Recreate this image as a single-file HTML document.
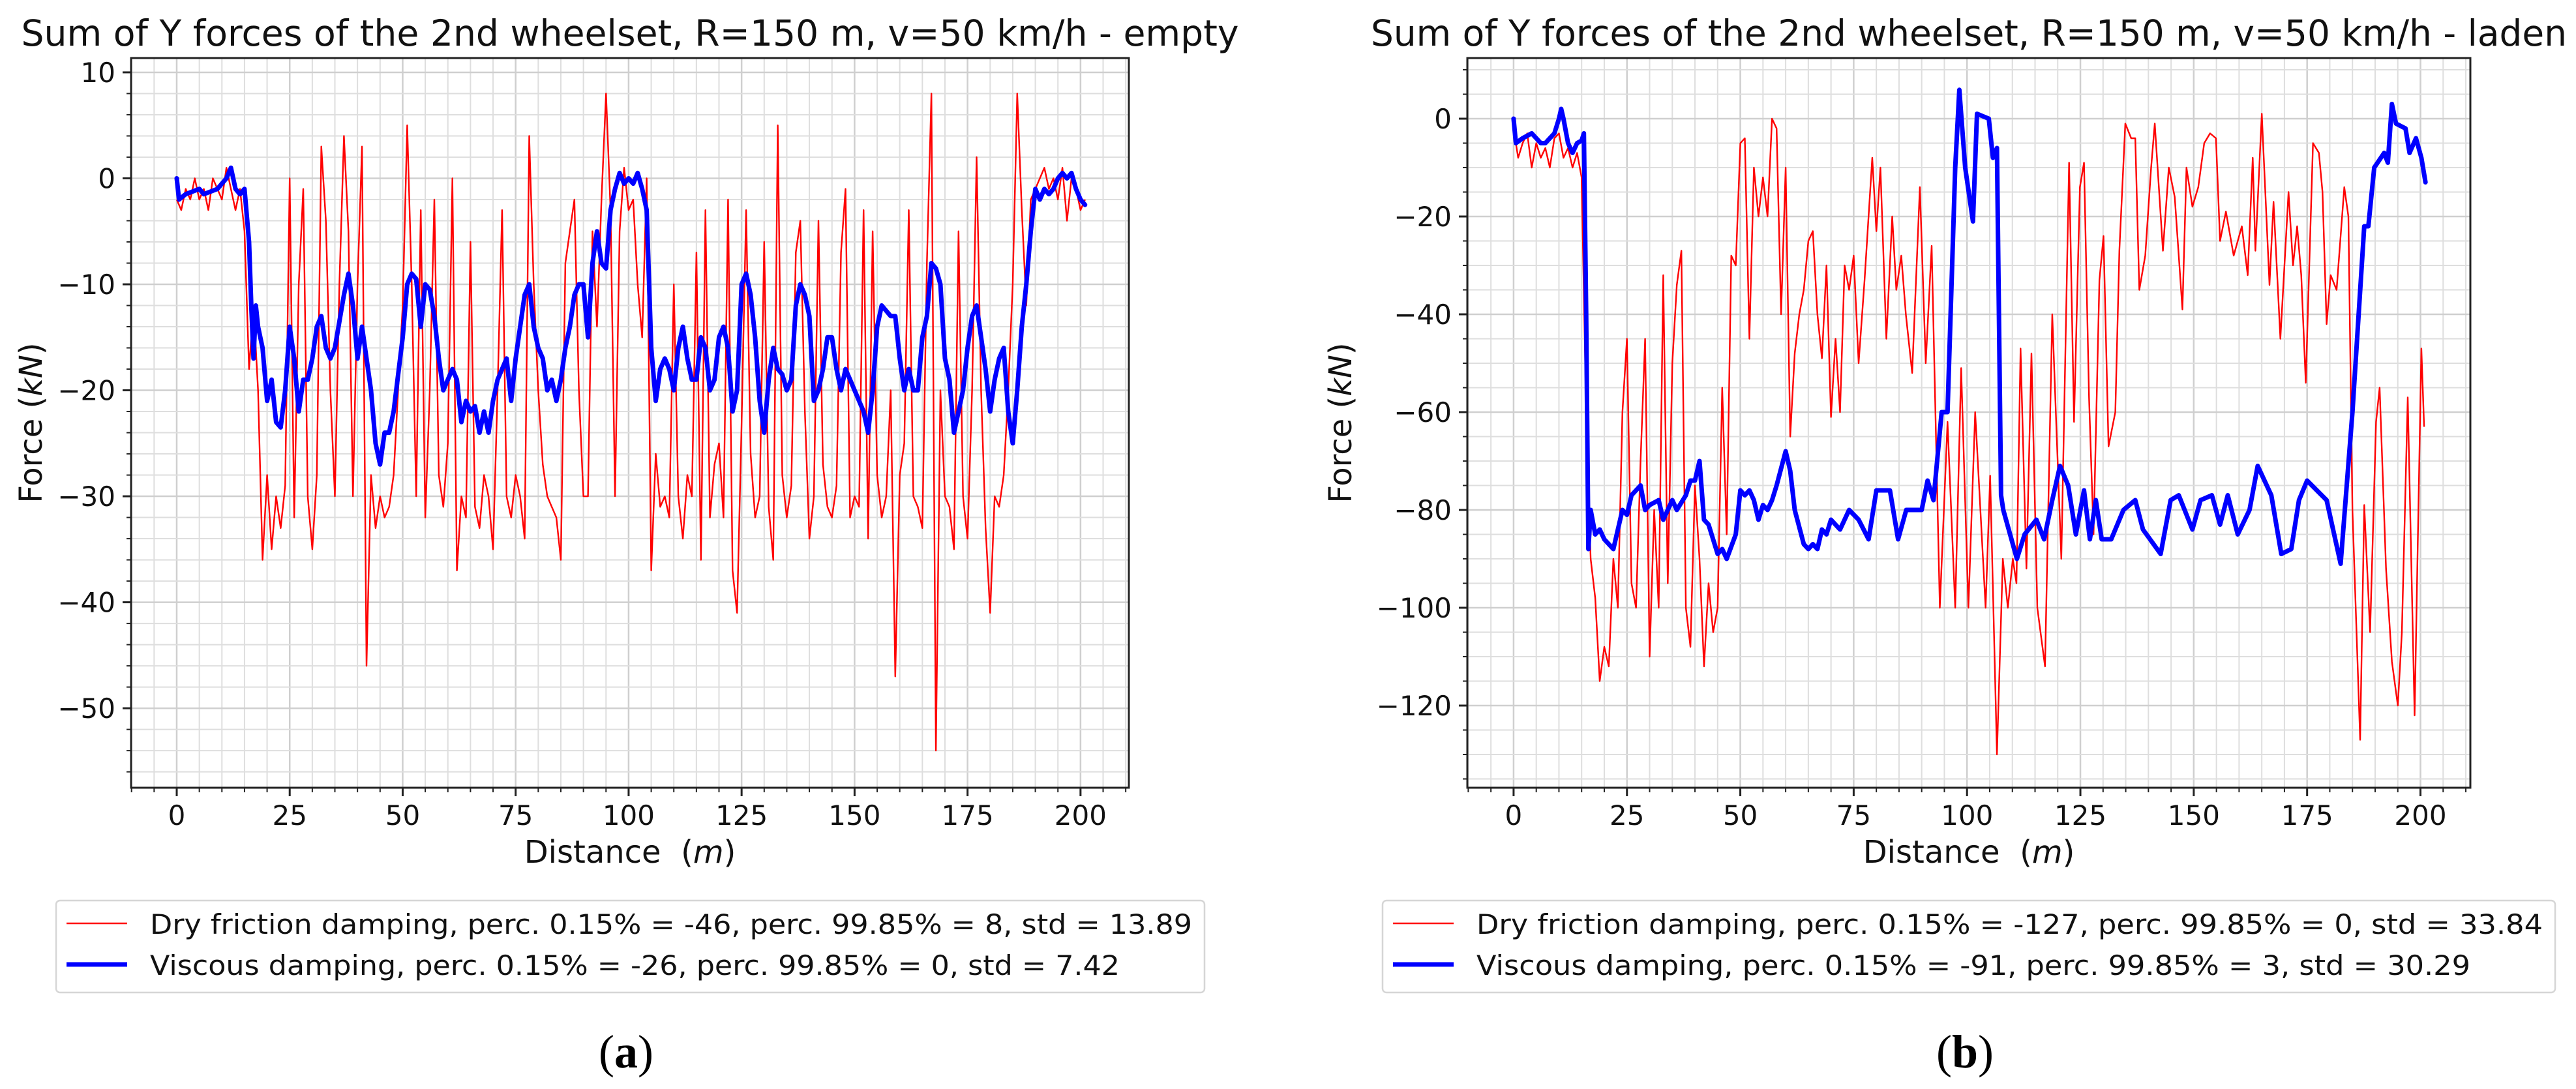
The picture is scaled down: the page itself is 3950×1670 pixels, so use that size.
<!DOCTYPE html>
<html><head><meta charset="utf-8">
<style>
html,body{margin:0;padding:0;background:#fff;}
svg{display:block;font-family:"DejaVu Sans","Liberation Sans",sans-serif;}
</style></head>
<body>
<svg id="fig" width="3950" height="1670" viewBox="0 0 3950 1670" xmlns="http://www.w3.org/2000/svg">
<rect x="0" y="0" width="3950" height="1670" fill="#fff"/>
<g id="chartA"></g>
<g id="chartB"></g>
</svg>
<script>
// ---------- Chart A (empty) data ----------
const aDryX = [0,1,2,3,4,5,6,7,8,9,10,11,12,13,14,15,16,17,18,19,20,21,22,23,24,25,26,27,28,29,30,31,32,33,34,35,36,37,38,39,40,41,42,43,44,45,46,47,48,49,50,51,52,53,54,55,56,57,58,59,60,61,62,63,64,65,66,67,68,69,70,71,72,73,74,75,76,77,78,79,80,81,82,83,84,85,86,87,88,89,90,91,92,93,94,95,96,97,98,99,100,101,102,103,104,105,106,107,108,109,110,111,112,113,114,115,116,117,118,119,120,121,122,123,124,125,126,127,128,129,130,131,132,133,134,135,136,137,138,139,140,141,142,143,144,145,146,147,148,149,150,151,152,153,154,155,156,157,158,159,160,161,162,163,164,165,166,167,168,169,170,171,172,173,174,175,176,177,178,179,180,181,182,183,184,185,186,187,188,189,190,191,192,193,194,195,196,197,198,199,200,201];
const aDryY = [-2,-3,-1,-2,0,-2,-1,-3,0,-1,-2,1,-1,-3,-1,-5,-18,-12,-20,-36,-28,-35,-30,-33,-29,0,-32,-10,-1,-30,-35,-28,3,-4,-20,-30,-10,4,-5,-30,-10,3,-46,-28,-33,-30,-32,-31,-28,-20,-12,5,-10,-30,-3,-32,-20,-2,-28,-31,-25,0,-37,-30,-32,-6,-31,-33,-28,-30,-35,-20,-3,-30,-32,-28,-30,-34,4,-10,-20,-27,-30,-31,-32,-36,-8,-5,-2,-20,-30,-30,-5,-14,-2,8,-3,-30,-5,1,-3,-2,-10,-15,0,-37,-26,-31,-30,-32,-10,-30,-34,-28,-30,-7,-36,-3,-32,-27,-25,-32,-2,-37,-41,-23,-3,-26,-32,-30,-6,-31,-36,5,-28,-32,-29,-7,-4,-22,-34,-30,-4,-27,-31,-32,-29,-7,-1,-32,-30,-31,-3,-34,-5,-28,-32,-30,-20,-47,-28,-25,-3,-30,-31,-33,-8,8,-54,-20,-30,-31,-35,-5,-30,-34,-20,2,-20,-33,-41,-30,-31,-28,-20,-10,8,-3,-12,-2,-1,0,1,-1,0,-2,1,-4,0,-1,-3,-2];
const aVisX = [0,0.5,2,5,6,9,11,12,13,14,15,16,16.5,17,17.5,18,19,20,21,22,23,24,25,26,27,28,29,30,31,32,33,34,35,37,38,39,40,41,42,43,44,45,46,47,48,50,51,52,53,54,55,56,57,58,59,60,61,62,63,64,65,66,67,68,69,70,71,72,73,74,75,76,77,78,79,80,81,82,83,84,85,86,87,88,89,90,91,92,93,94,95,96,97,98,99,100,101,102,103,104,105,106,107,108,109,110,111,112,113,114,115,116,117,118,119,120,121,122,123,124,125,126,127,128,129,130,131,132,133,134,135,136,137,138,139,140,141,142,143,144,145,146,147,148,149,150,151,152,153,154,155,156,157,158,159,160,161,162,163,164,165,166,167,168,169,170,171,172,173,174,175,176,177,178,179,180,181,182,183,184,185,186,187,188,189,190,191,192,193,194,195,196,197,198,199,200,201];
const aVisY = [0,-2,-1.5,-1,-1.5,-1,0,1,-1,-1.5,-1,-6,-12,-17,-12,-14,-16,-21,-19,-23,-23.5,-20,-14,-17,-22,-19,-19,-17,-14,-13,-16,-17,-16,-11,-9,-12,-17,-14,-17,-20,-25,-27,-24,-24,-22,-15,-10,-9,-9.5,-14,-10,-10.5,-13,-17,-20,-19,-18,-19,-23,-21,-22,-21.5,-24,-22,-24,-21,-19,-18,-17,-21,-17,-14,-11,-10,-14,-16,-17,-20,-19,-21,-19,-16,-14,-11,-10,-10,-15,-8,-5,-8,-8.5,-3,-1,0.5,-0.5,0,-0.5,0.5,-1,-3,-16,-21,-18,-17,-18,-20,-16,-14,-17,-19,-19,-15,-16,-20,-19,-15,-14,-16,-22,-20,-10,-9,-11,-15,-21,-24,-19,-16,-18,-18.5,-20,-19,-12,-10,-11,-13,-21,-20,-18,-15,-15,-18,-20,-18,-19,-20,-21,-22,-24,-20,-14,-12,-12.5,-13,-13,-17,-20,-18,-20,-20,-15,-13,-8,-8.5,-10,-17,-19,-24,-22,-20,-16,-13,-12,-15,-18,-22,-19,-17,-16,-22,-25,-20,-14,-10,-5,-1,-2,-1,-1.5,-1,0,0.5,0,0.5,-1,-2,-2.5];
const aYTicks = [10,0,-10,-20,-30,-40,-50];
const aYTickLabels = ["10","0","\u221210","\u221220","\u221230","\u221240","\u221250"];
const aXTicks = [0,25,50,75,100,125,150,175,200];
const aXTickLabels = ["0","25","50","75","100","125","150","175","200"];

// ---------- Chart B (laden) data ----------
const bDryX = [0,1,2,3,4,5,6,7,8,9,10,11,12,13,14,15,16,17,18,19,20,21,22,23,24,25,26,27,28,29,30,31,32,33,34,35,36,37,38,39,40,41,42,43,44,45,46,47,48,49,50,51,52,53,54,55,56,57,58,59,60,61,62,63,64,65,66,67,68,69,70,71,72,73,74,75,76.1,77.4,79.1,80,80.9,82.2,83.5,84.4,85.5,86.5,87.9,89.6,90.9,92.2,94,95.7,97.4,98.7,100.3,101.8,104.1,105.1,106.6,107.9,109,110.1,110.9,111.8,113.1,114.2,115.5,117.2,118.8,119.7,120.8,122.5,123.6,124.9,125.8,126.9,127.9,129.2,130.1,131.2,132.7,133.6,134.9,136.2,137.1,138,139.3,140.6,141.4,143.2,144.5,145.8,147.5,148.4,149.7,151,152.3,153.6,154.9,155.8,157.1,158.8,160.6,161.9,163,163.6,165,166.7,167.6,169.1,170.9,171.9,172.8,173.7,174.7,176.3,177.6,178.4,179.3,180.2,181.5,183.2,184.1,185,186.7,187.6,188.9,190.2,191,192.4,193.7,195,195.9,197.2,198.7,200.2,200.8];
const bDryY = [-2,-8,-5,-3,-10,-5,-8,-6,-10,-4,-3,-8,-6,-10,-7,-12,-60,-90,-98,-115,-108,-112,-90,-100,-60,-45,-95,-100,-70,-45,-110,-80,-100,-32,-95,-50,-34,-27,-100,-108,-75,-90,-112,-95,-105,-100,-55,-85,-28,-30,-5,-4,-45,-10,-20,-12,-20,0,-2,-40,-10,-65,-48,-40,-35,-25,-23,-40,-49,-30,-61,-45,-60,-30,-35,-28,-50,-33,-8,-23,-10,-45,-20,-35,-28,-40,-52,-14,-50,-26,-100,-62,-100,-51,-100,-60,-100,-73,-130,-90,-100,-90,-95,-47,-92,-48,-100,-112,-40,-63,-90,-9,-62,-14,-9,-57,-85,-33,-24,-67,-60,-27,-1,-4,-4,-35,-28,-10,-1,-27,-10,-16,-39,-10,-18,-14,-5,-3,-4,-25,-19,-28,-22,-32,-8,-27,1,-34,-17,-45,-15,-30,-22,-32,-54,-5,-7,-15,-42,-32,-35,-14,-20,-80,-127,-79,-105,-62,-55,-92,-111,-120,-105,-57,-122,-47,-63];
const bVisX = [0,0.5,2,4,5,6,7,8,9,10,10.5,11,12,13,14,15,15.5,16,16.5,17,18,19,20,22,24,25,26,28,29,30,32,33,35,36,38,39,40,41,42,43,45,46,47,49,50,51,52,53,54,55,56,57,58,60,61,62,64,65,66,67,68,69,70,72,74,76.1,78.3,80,83,84.8,86.6,90,91.3,92.6,94.4,95.7,97.4,98.3,99.6,101.3,102.2,104.8,105.7,106.6,107.5,108,111,112.7,115.3,117,118.8,120.5,122.3,124,125.8,127.1,128.4,129.7,131.8,134.5,137.1,138.8,142.7,144.9,146.7,149.7,151.5,154,155.8,157.5,159.7,162.3,164.1,167.1,169.3,171.5,173.2,175,179.3,182.4,185,187.6,188.5,189.8,192,192.8,193.7,194.6,196.7,197.6,199,200.2,201.1];
const bVisY = [0,-5,-4,-3,-4,-5,-5,-4,-3,0,2,0,-5,-7,-5,-4.5,-3,-40,-88,-80,-85,-84,-86,-88,-80,-81,-77,-75,-80,-79,-78,-82,-78,-80,-77,-74,-74,-70,-82,-83,-89,-88,-90,-85,-76,-77,-76,-78,-82,-79,-80,-78,-75,-68,-72,-80,-87,-88,-87,-88,-84,-85,-82,-84,-80,-82,-86,-76,-76,-86,-80,-80,-74,-78,-60,-60,-10,5.9,-10,-21,1,0,-8,-6,-77,-80,-90,-85,-82,-86,-78,-71,-75,-85,-76,-86,-78,-86,-86,-80,-78,-84,-89,-78,-77,-84,-78,-77,-83,-77,-85,-80,-71,-77,-89,-88,-78,-74,-78,-91,-60,-22,-22,-10,-7,-9,3,-1,-2,-7,-4,-8,-13];
const bYTicks = [0,-20,-40,-60,-80,-100,-120];
const bYTickLabels = ["0","\u221220","\u221240","\u221260","\u221280","\u2212100","\u2212120"];
const bXTicks = [0,25,50,75,100,125,150,175,200];
const bXTickLabels = ["0","25","50","75","100","125","150","175","200"];

const NS = "http://www.w3.org/2000/svg";
function mk(tag, attrs, parent){
  const e = document.createElementNS(NS, tag);
  for (const k in attrs) e.setAttribute(k, attrs[k]);
  parent.appendChild(e);
  return e;
}

function drawChart(g, cfg){
  const L=cfg.left, R=cfg.right, T=89, B=1208;
  const sx = v => L + (v - cfg.xmin) / (cfg.xmax - cfg.xmin) * (R - L);
  const sy = v => T + (cfg.ymax - v) / (cfg.ymax - cfg.ymin) * (B - T);
  // grid
  const grid = mk('g', {}, g);
  
  
  for (let v = Math.ceil(cfg.xmin/5)*5; v <= cfg.xmax; v += 5){
    const major = v % 25 === 0;
    const ln = mk('line', {x1:sx(v), x2:sx(v), y1:T, y2:B, stroke: major ? '#cfcfcf' : '#dedede', 'stroke-width': major ? 2.5 : 2}, grid);
    
    
    const tk = mk('line', {x1:sx(v), x2:sx(v), y1:B, y2:B + (major ? 13 : 7), stroke:'#222', 'stroke-width': major ? 3 : 2}, g);
    
    
  }
  for (let v = Math.ceil(cfg.ymin/cfg.minorY)*cfg.minorY; v <= cfg.ymax; v += cfg.minorY){
    const major = Math.abs(v % cfg.majorY) < 1e-6;
    const ln = mk('line', {x1:L, x2:R, y1:sy(v), y2:sy(v), stroke: major ? '#cfcfcf' : '#dedede', 'stroke-width': major ? 2.5 : 2}, grid);
    
    
    const tk = mk('line', {x1:L - (major ? 13 : 7), x2:L, y1:sy(v), y2:sy(v), stroke:'#222', 'stroke-width': major ? 3 : 2}, g);
    
    
  }
  // series
  const clip = 'clip' + cfg.id;
  const cp = mk('clipPath', {id: clip}, g);
  mk('rect', {x:L, y:T, width:R-L, height:B-T}, cp);
  const path = (xs, ys) => xs.map((x,i) => (i ? 'L' : 'M') + sx(x).toFixed(1) + ' ' + sy(ys[i]).toFixed(1)).join(' ');
  const red = mk('path', {d: path(cfg.dryX, cfg.dryY), fill:'none', stroke:'#ff0000', 'stroke-width':2.4, 'stroke-linejoin':'round', 'clip-path':'url(#'+clip+')'}, g);
  
  
  const blue = mk('path', {d: path(cfg.visX, cfg.visY), fill:'none', stroke:'#0000ff', 'stroke-width':7, 'stroke-linejoin':'round', 'stroke-linecap':'round', 'clip-path':'url(#'+clip+')'}, g);
  
  
  // frame
  const fr = mk('rect', {x:L, y:T, width:R-L, height:B-T, fill:'none', stroke:'#222', 'stroke-width':3}, g);
  
  
  // tick labels
  cfg.xTicks.forEach((v,i) => {
    const t = mk('text', {x:sx(v), y:1265, 'font-size':42, 'text-anchor':'middle', fill:'#111'}, g);
    t.textContent = cfg.xTickLabels[i];
    
    
  });
  cfg.yTicks.forEach((v,i) => {
    const t = mk('text', {x:L - 24, y:sy(v) + 15, 'font-size':42, 'text-anchor':'end', fill:'#111'}, g);
    t.textContent = cfg.yTickLabels[i];
    
    
  });
  const cx = (L + R) / 2;
  const title = mk('text', {x:cx, y:70, 'font-size':55, 'text-anchor':'middle', textLength:cfg.titleLen, lengthAdjust:'spacingAndGlyphs', fill:'#111'}, g);
  title.textContent = cfg.title;
  
  
  const xl = mk('text', {x:cx, y:1323, 'font-size':48, 'text-anchor':'middle', fill:'#111'}, g);
  xl.innerHTML = 'Distance\u00a0 (<tspan font-style="italic">m</tspan>)';
  
  
  const yl = mk('text', {x:0, y:0, 'font-size':48, 'text-anchor':'middle', fill:'#111', transform:'translate(' + cfg.ylabX + ',' + ((T+B)/2) + ') rotate(-90)'}, g);
  yl.innerHTML = 'Force (<tspan font-style="italic">kN</tspan>)';
  
  
  // legend
  const lg = mk('g', {}, g);
  
  
  mk('rect', {x:cfg.lgL, y:1381, width:cfg.lgR-cfg.lgL, height:141, rx:6, fill:'#fff', stroke:'#d6d6d6', 'stroke-width':2.5}, lg);
  const e1 = mk('g', {}, lg);
  
  
  mk('line', {x1:cfg.lgL+16, x2:cfg.lgL+109, y1:1416, y2:1416, stroke:'#ff0000', 'stroke-width':2.4}, e1);
  const t1 = mk('text', {x:cfg.lgL+144, y:1432, 'font-size':42, fill:'#111', textLength:cfg.leg1Len, lengthAdjust:'spacingAndGlyphs'}, e1);
  t1.textContent = cfg.leg1;
  const e2 = mk('g', {}, lg);
  
  
  mk('line', {x1:cfg.lgL+16, x2:cfg.lgL+109, y1:1479, y2:1479, stroke:'#0000ff', 'stroke-width':7}, e2);
  const t2 = mk('text', {x:cfg.lgL+144, y:1495, 'font-size':42, fill:'#111', textLength:cfg.leg2Len, lengthAdjust:'spacingAndGlyphs'}, e2);
  t2.textContent = cfg.leg2;
  // panel label
  const pl = mk('text', {x:cx - 6, y:1637, 'font-size':72, 'text-anchor':'middle', fill:'#000', 'font-family':'"Liberation Serif", serif'}, g);
  pl.innerHTML = '(<tspan font-weight="bold">' + cfg.panel + '</tspan>)';
  
  
}

drawChart(document.getElementById('chartA'), {
  id:'A', left:201, right:1731, xmin:-10.1, xmax:210.7, ymin:-57.5, ymax:11.35, minorY:2, majorY:10,
  dryX:aDryX, dryY:aDryY, visX:aVisX, visY:aVisY,
  xTicks:aXTicks, xTickLabels:aXTickLabels, yTicks:aYTicks, yTickLabels:aYTickLabels,
  title:'Sum of Y forces of the 2nd wheelset, R=150 m, v=50 km/h - empty', titleLen:1867, ylabX:64,
  lgL:86, lgR:1847, leg1:'Dry friction damping, perc. 0.15% = -46, perc. 99.85% = 8, std = 13.89', leg1Len:1598,
  leg2:'Viscous damping, perc. 0.15% = -26, perc. 99.85% = 0, std = 7.42', leg2Len:1487, panel:'a'
});
drawChart(document.getElementById('chartB'), {
  id:'B', left:2250, right:3788, xmin:-10.2, xmax:211, ymin:-136.8, ymax:12.4, minorY:5, majorY:20,
  dryX:bDryX, dryY:bDryY, visX:bVisX, visY:bVisY,
  xTicks:bXTicks, xTickLabels:bXTickLabels, yTicks:bYTicks, yTickLabels:bYTickLabels,
  title:'Sum of Y forces of the 2nd wheelset, R=150 m, v=50 km/h - laden', titleLen:1834, ylabX:2072,
  lgL:2120, lgR:3918, leg1:'Dry friction damping, perc. 0.15% = -127, perc. 99.85% = 0, std = 33.84', leg1Len:1635,
  leg2:'Viscous damping, perc. 0.15% = -91, perc. 99.85% = 3, std = 30.29', leg2Len:1524, panel:'b'
});
</script>
</body></html>
